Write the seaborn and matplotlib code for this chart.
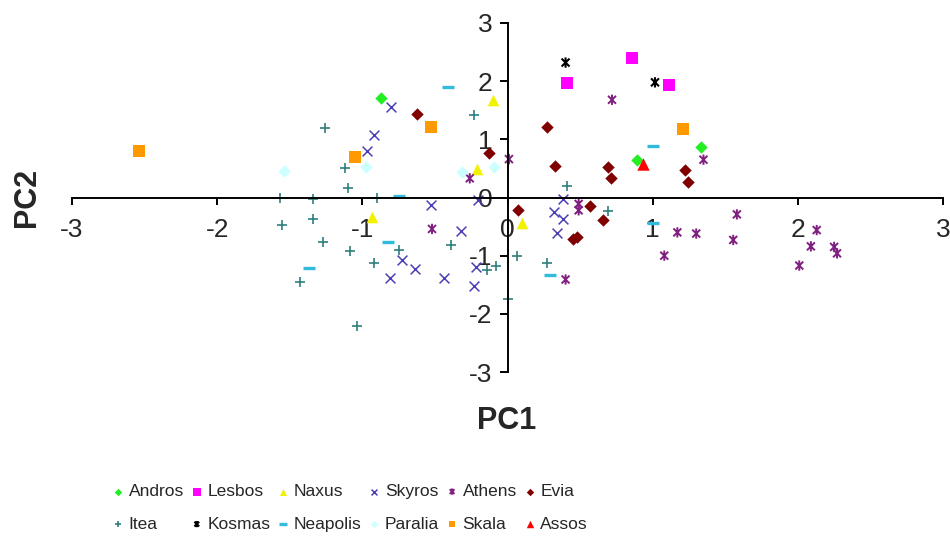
import numpy as np
import pandas as pd
import seaborn as sns
from matplotlib import pyplot as plt
from matplotlib.path import Path
from matplotlib.markers import MarkerStyle

sns.set_style("white")
plt.rcParams["font.family"] = ["Liberation Sans", "DejaVu Sans"]
plt.rcParams["axes.unicode_minus"] = False

# values (PC1, PC2) per site
andros_x = [-0.87, 0.89, 1.33]
andros_y = [1.71, 0.64, 0.86]
lesbos_x = [0.41, 0.86, 1.11]
lesbos_y = [1.97, 2.40, 1.94]
naxus_x = [-0.10, -0.21, -0.935, 0.10]
naxus_y = [1.67, 0.49, -0.34, -0.44]
skyros_x = [-0.80, -0.92, -0.965, -0.53, -0.32, -0.73, -0.64, -0.81, -0.44, -0.22, -0.23, -0.20, 0.38, 0.32, 0.385, 0.34]
skyros_y = [1.55, 1.08, 0.80, -0.13, -0.57, -1.07, -1.23, -1.39, -1.39, -1.20, -1.53, -0.05, -0.02, -0.25, -0.37, -0.61]
athens_x = [0.01, -0.26, 0.72, 1.35, -0.52, 0.40, 0.49, 0.49, 1.08, 1.17, 1.30, 1.58, 1.555, 2.13, 2.09, 2.01, 2.25, 2.27]
athens_y = [0.66, 0.33, 1.68, 0.65, -0.54, -1.41, -0.11, -0.22, -1.00, -0.60, -0.62, -0.29, -0.73, -0.56, -0.84, -1.17, -0.85, -0.96]
evia_x = [-0.62, -0.13, 0.27, 0.33, 0.69, 0.71, 1.22, 1.245, 0.07, 0.57, 0.655, 0.45, 0.48]
evia_y = [1.44, 0.76, 1.22, 0.55, 0.52, 0.33, 0.48, 0.275, -0.21, -0.14, -0.38, -0.72, -0.68]
itea_x = [-1.26, -1.12, -1.10, -1.57, -1.34, -1.555, -1.34, -1.27, -1.085, -1.43, -1.04, -0.90, -0.745, -0.917, -0.39, -0.14, -0.08, 0.0, 0.063, 0.27, 0.41, 0.69, -0.23]
itea_y = [1.19, 0.50, 0.17, 0.0, -0.02, -0.48, -0.37, -0.76, -0.92, -1.46, -2.21, 0.0, -0.91, -1.12, -0.82, -1.25, -1.17, -1.74, -1.0, -1.12, 0.19, -0.235, 1.42]
kosmas_x = [0.40, 1.016]
kosmas_y = [2.32, 1.98]
neapolis_x = [-1.365, -0.41, -0.75, -0.825, 0.29, 1.00, 1.00]
neapolis_y = [-1.21, 1.90, 0.02, -0.77, -1.34, 0.88, -0.44]
paralia_x = [-1.54, -0.975, -0.31, -0.09]
paralia_y = [0.46, 0.52, 0.43, 0.52]
skala_x = [-2.54, -1.05, -0.53, 1.21]
skala_y = [0.80, 0.69, 1.21, 1.17]
assos_x = [0.935]
assos_y = [0.57]

sites = ["Andros", "Lesbos", "Naxus", "Skyros", "Athens", "Evia",
         "Itea", "Kosmas", "Neapolis", "Paralia", "Skala", "Assos"]
xs = [andros_x, lesbos_x, naxus_x, skyros_x, athens_x, evia_x,
      itea_x, kosmas_x, neapolis_x, paralia_x, skala_x, assos_x]
ys = [andros_y, lesbos_y, naxus_y, skyros_y, athens_y, evia_y,
      itea_y, kosmas_y, neapolis_y, paralia_y, skala_y, assos_y]

df = pd.concat([pd.DataFrame({"PC1": x, "PC2": y, "site": s})
                for s, x, y in zip(sites, xs, ys)], ignore_index=True)

# excel-like star: x with a vertical bar
star_path = Path([(-1, -1), (1, 1), (-1, 1), (1, -1), (0, -1.3), (0, 1.3)],
                 [Path.MOVETO, Path.LINETO, Path.MOVETO, Path.LINETO, Path.MOVETO, Path.LINETO])
star = MarkerStyle(star_path, fillstyle="none")

styles = {
    "Andros": ("#22EE22", "D", 40, 0),
    "Lesbos": ("#FF00FF", "s", 74, 0),
    "Naxus": ("#F2F200", "^", 70, 0),
    "Skyros": ("#4B3FB5", "x", 50, 1.1),
    "Athens": ("#802080", star, 55, 1.4),
    "Evia": ("#800000", "D", 40, 0),
    "Itea": ("#2E7F7F", "+", 50, 1.2),
    "Kosmas": ("#000000", star, 55, 1.5),
    "Neapolis": ("#33BBDD", "_", 74, 2.4),
    "Paralia": ("#CCFFFF", "D", 40, 0),
    "Skala": ("#FF9900", "s", 70, 0),
    "Assos": ("#FF0000", "^", 80, 0),
}

fig = plt.figure(figsize=(9.5, 5.47), dpi=100)
ax = fig.add_axes([72 / 950, 1 - 372 / 547, 871 / 950, 349 / 547])

for site in sites:
    color, marker, size, lw = styles[site]
    sub = df[df["site"] == site]
    sns.scatterplot(data=sub, x="PC1", y="PC2", color=color, marker=marker,
                    s=size, linewidth=lw, ax=ax, label=site,
                    **({"edgecolor": color} if lw == 0 else {}))

ax.set_xlim(-3, 3)
ax.set_ylim(-3, 3)
ax.set_xticks([-3, -2, -1, 0, 1, 2, 3])
ax.set_yticks([-3, -2, -1, 0, 1, 2, 3])
for side in ["top", "right"]:
    ax.spines[side].set_visible(False)
ax.spines["left"].set_position("zero")
ax.spines["bottom"].set_position("zero")
for side in ["left", "bottom"]:
    ax.spines[side].set_linewidth(1.4)
    ax.spines[side].set_color("black")
ax.tick_params(axis="x", bottom=True, direction="out", length=5, width=1.4,
               pad=10, labelsize=19, color="black")
ax.tick_params(axis="y", left=True, direction="out", length=6, width=1.4,
               pad=5, labelsize=19, color="black")
ax.set_xlabel("")
ax.set_ylabel("")
ax.set_facecolor("white")

fig.text(507 / 950, 1 - 421 / 547, "PC1", ha="center", va="center",
         fontsize=22, fontweight="bold")
fig.text(27 / 950, 1 - 197 / 547, "PC2", ha="center", va="center",
         fontsize=22, fontweight="bold", rotation=90)

# legend in 2 rows x 6 columns, matplotlib fills column-wise
handles, labels = ax.get_legend_handles_labels()
order = [0, 6, 1, 7, 2, 8, 3, 9, 4, 10, 5, 11]
ax.legend([handles[i] for i in order], [labels[i] for i in order],
          ncol=6, loc="upper left", bbox_to_anchor=(112 / 950, 1 - 484 / 547),
          bbox_transform=fig.transFigure, frameon=False,
          markerscale=0.6, handlelength=0.7, handletextpad=0.25,
          columnspacing=0.4, labelspacing=1.0, borderpad=0, borderaxespad=0,
          prop={"family": "Liberation Sans", "size": 12.5})

fig.savefig("out.png", dpi=100, facecolor="white")
